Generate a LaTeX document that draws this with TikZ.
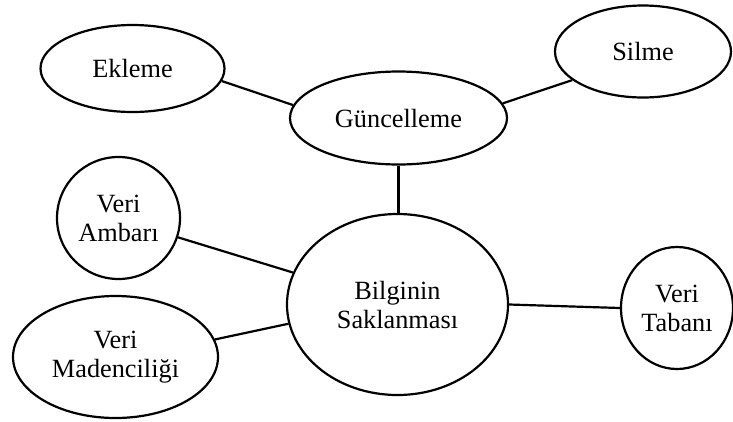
\documentclass[tikz,border=0pt]{standalone}
\usepackage{fontspec}
\setmainfont{Liberation Serif}
\usetikzlibrary{shapes.geometric}
\begin{document}
\begin{tikzpicture}[x=1pt,y=-1pt,
  topic/.style={ellipse,draw,line width=2.2pt,inner sep=0pt,align=center,
    font=\fontsize{26.3}{29}\selectfont},
  link/.style={line width=2.2pt}]
\useasboundingbox (0,0) rectangle (733,421);
% central topic and the update branch
\node[topic,minimum width=221pt,minimum height=181pt] (bil) at (397.5,304.5) {Bilginin\\Saklanması};
\node[topic,minimum width=217pt,minimum height=93pt] (gun) at (398.5,118) {Güncelleme};
\node[topic,minimum width=184pt,minimum height=87pt] (ekl) at (132.5,68.5) {Ekleme};
\node[topic,minimum width=176pt,minimum height=92pt] (sil) at (643,51.5) {Silme};
% satellites of the central topic
\node[topic,minimum width=123pt,minimum height=122pt] (amb) at (118.5,218) {Veri\\Ambarı};
\node[topic,minimum width=205pt,minimum height=122pt] (mad) at (115.5,357) {Veri\\Madenciliği};
\node[topic,minimum width=112pt,minimum height=122pt] (tab) at (677,308) {Veri\\Tabanı};
% connectors
\draw[link] (ekl.-8) -- (gun.173);
\draw[link] (gun.8) -- (sil.-158);
\draw[link] (gun.south) -- (gun.south |- bil.north);
\draw[link] (amb.-18) -- (bil.163);
\draw[link] (mad.10) -- (bil.-170);
\draw[link] (bil.0) -- (tab.180);
\end{tikzpicture}
\end{document}
